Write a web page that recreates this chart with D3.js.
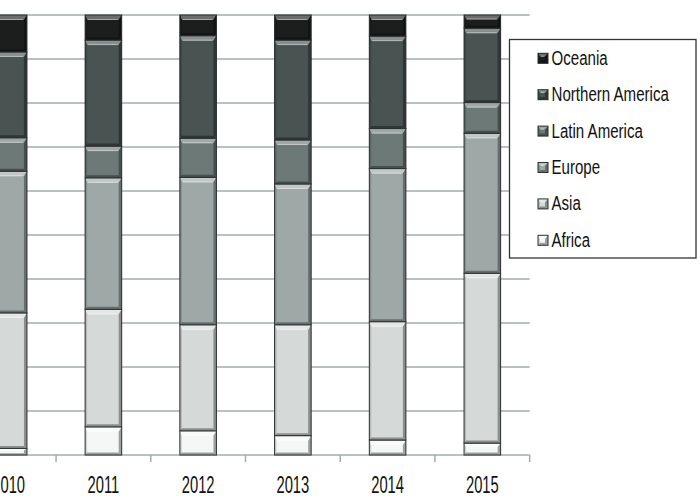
<!DOCTYPE html>
<html>
<head>
<meta charset="utf-8">
<script src="https://cdn.jsdelivr.net/npm/d3@7"></script>
<style>
html,body{margin:0;padding:0;background:#fff;}
svg{display:block;}
</style>
</head>
<body>
<svg id="chart" width="700" height="499"></svg>
<script>
const years = ["2010","2011","2012","2013","2014","2015"];
const regions = ["Africa","Asia","Europe","Latin America","Northern America","Oceania"];
const africa = [1.5, 6.4, 5.5, 4.4, 3.4, 2.7];
const asia = [30.8, 26.7, 24.1, 25.2, 26.9, 38.6];
const europe = [32.2, 29.9, 33.5, 32.0, 34.8, 31.8];
const latinAmerica = [7.6, 7.2, 8.9, 10.0, 9.1, 7.0];
const northernAmerica = [19.5, 24.1, 23.3, 22.7, 21.0, 16.9];
const oceania = [8.4, 5.7, 4.7, 5.7, 4.8, 3.0];
const yTicks = [0,10,20,30,40,50,60,70,80,90,100];
const colors = ["#f5f7f7","#d5dad9","#9ea9a7","#6d7977","#495352","#1c1e1e"];

const seriesValues = [africa, asia, europe, latinAmerica, northernAmerica, oceania];
const rows = years.map((yr,i)=>{
  const r = {year:yr};
  regions.forEach((k,j)=>{ r[k] = seriesValues[j][i]; });
  return r;
});

const svg = d3.select("#chart");
const plotLeft = -38.7, plotRight = 529.7, plotTop = 15, plotBottom = 455;

const x = d3.scaleBand().domain(years).range([plotLeft,plotRight]).padding(0);
const y = d3.scaleLinear().domain([0,100]).range([plotBottom,plotTop]);
const barFrac = 0.386;
const color = d3.scaleOrdinal().domain(regions).range(colors);
const fontFam = "'Liberation Sans','Arial',sans-serif";

// gridlines
svg.append("g").selectAll("line").data(yTicks.slice(1)).join("line")
  .attr("x1", plotLeft).attr("x2", plotRight)
  .attr("y1", d=>y(d)).attr("y2", d=>y(d))
  .attr("stroke","#a3acab").attr("stroke-width",1.5);

// axis baseline and ticks
svg.append("line").attr("x1",plotLeft).attr("x2",plotRight).attr("y1",plotBottom).attr("y2",plotBottom)
  .attr("stroke","#a3acab").attr("stroke-width",1.5);
const bounds = years.map(d=>x(d)).concat([x(years[years.length-1])+x.bandwidth()]);
svg.append("g").selectAll("line").data(bounds).join("line")
  .attr("x1",d=>d).attr("x2",d=>d).attr("y1",plotBottom).attr("y2",plotBottom+7)
  .attr("stroke","#a3acab").attr("stroke-width",1.5);

// stacked data
const stack = d3.stack().keys(regions)(rows);

function bevelSeg(g, x0, y0, w, h, base){
  const t = Math.min(5, h/3), b = Math.min(2.5, h/4), r = 3, l = 2;
  g.append("rect").attr("x",x0).attr("y",y0).attr("width",w).attr("height",h).attr("fill",base);
  const hi = d3.interpolateRgb(base,"#ffffff")(0.35);
  const hi2 = d3.interpolateRgb(base,"#ffffff")(0.6);
  const dk = d3.interpolateRgb(base,"#000000")(0.35);
  const dk2 = d3.interpolateRgb(base,"#000000")(0.15);
  g.append("polygon").attr("points",[[x0,y0],[x0+w,y0],[x0+w-r,y0+t],[x0+l,y0+t]].join(" ")).attr("fill",hi);
  g.append("line").attr("x1",x0+l+1).attr("x2",x0+w-r-1).attr("y1",y0+t-0.5).attr("y2",y0+t-0.5)
    .attr("stroke",hi2).attr("stroke-width",1);
  g.append("polygon").attr("points",[[x0,y0],[x0+l,y0+t],[x0+l,y0+h-b],[x0,y0+h]].join(" ")).attr("fill",dk2);
  g.append("polygon").attr("points",[[x0+w,y0],[x0+w,y0+h],[x0+w-r,y0+h-b],[x0+w-r,y0+t]].join(" ")).attr("fill",dk);
  g.append("polygon").attr("points",[[x0,y0+h],[x0+w,y0+h],[x0+w-r,y0+h-b],[x0+l,y0+h-b]].join(" ")).attr("fill",dk);
  g.append("rect").attr("x",x0).attr("y",y0).attr("width",w).attr("height",h)
    .attr("fill","none").attr("stroke","#2a3030").attr("stroke-width",1);
}

const barsG = svg.append("g");
stack.forEach(layer=>{
  layer.forEach(d=>{
    const bw = x.bandwidth()*barFrac;
    const x0 = x(d.data.year) + (x.bandwidth()-bw)/2;
    const y0 = y(d[1]), h = y(d[0]) - y(d[1]);
    bevelSeg(barsG, x0, y0, bw, h, color(layer.key));
  });
});

// x labels (condensed look)
svg.append("g").selectAll("text").data(years).join("text")
  .attr("transform", d=>`translate(${x(d)+x.bandwidth()/2},493) scale(0.82,1.33)`)
  .attr("text-anchor","middle")
  .attr("font-family",fontFam)
  .attr("font-size",18).attr("fill","#111")
  .text(d=>d);

// legend
const lg = svg.append("g");
lg.append("rect").attr("x",509.5).attr("y",39.5).attr("width",186.5).attr("height",218.5)
  .attr("fill","#fff").attr("stroke","#333").attr("stroke-width",1.3);
const legendOrder = regions.slice().reverse();
legendOrder.forEach((k,i)=>{
  const cy = 58.3 + i*36.4;
  bevelSeg(lg, 538, cy-5, 10, 10, color(k));
  lg.append("text").attr("transform",`translate(551.5,${cy+6.5}) scale(0.82,1.05)`)
    .attr("font-family",fontFam)
    .attr("font-size",18.4).attr("fill","#111").text(k);
});
</script>
</body>
</html>
